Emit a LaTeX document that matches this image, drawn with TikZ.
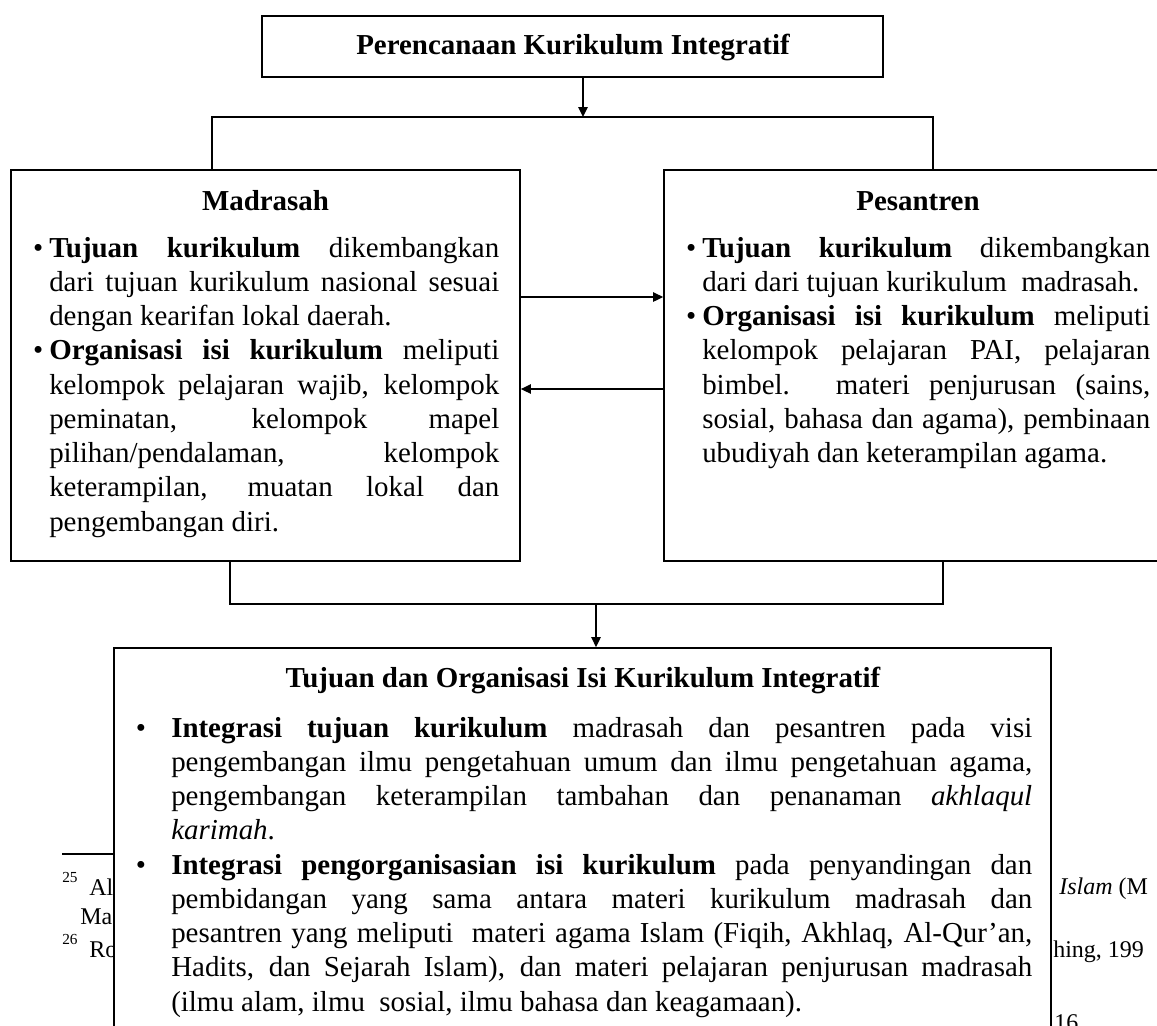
\documentclass[tikz,border=0pt]{standalone}
\usepackage{fontspec}
\setmainfont{Liberation Serif}
\usetikzlibrary{arrows.meta}
\newcommand\bodyfont{\fontsize{21.7pt}{25.7pt}\selectfont}
\newcommand\fullline[1]{\hbox to\linewidth{#1}}
\newcommand\lastline[1]{\hbox{#1}}
\newcommand\topbul{\llap{•\kern4.5pt}}
\newcommand\botbul{\llap{•\kern19pt}}
\begin{document}
\begin{tikzpicture}[x=0.75pt,y=-0.75pt,
  box/.style={draw, line width=1.3pt, fill=white, inner sep=0pt},
  conn/.style={line width=1.3pt},
  arr/.style={line width=1.3pt, -{Triangle[length=7.5pt,width=7pt]}},
  head/.style={font=\bodyfont\bfseries, inner sep=0pt, anchor=base},
  bodytext/.style={inner sep=0pt, anchor=base west},
  fn/.style={font=\fontsize{18pt}{20pt}\selectfont, inner sep=0pt, anchor=base west},
  fnsup/.style={font=\fontsize{11.5pt}{13pt}\selectfont, inner sep=0pt, anchor=base west}]
\fill[white] (0,0) rectangle (1157,1025);
\useasboundingbox (0,0) rectangle (1157,1025);

% background footnote fragments (partly hidden by the bottom box)
\coordinate (fr0) at (62,854);
\coordinate (fr1) at (300,854);
\draw[line width=0.9pt] (fr0) -- (fr1);
\node[fnsup] (s25) at (62,882) {25};
\node[fn] (f1) at (89,895) {Al};
\node[fn] (f2) at (80,924) {Ma};
\node[fnsup] (s26) at (62,944) {26};
\node[fn] (f3) at (89,957) {Ro};
\node[fn] (f4) at (1059,894) {\textit{Islam} (M};
\node[fn] (f5) at (1053,957) {hing, 199};
\node[fn] (f6) at (1054,1030) {16};

% boxes
\node[box, minimum width=465.75pt, minimum height=45.75pt] (top) at (572.5,46.5) {};
\node[box, minimum width=381.75pt, minimum height=293.25pt] (mad) at (265.5,365.5) {};
\node[box, minimum width=381pt, minimum height=293.25pt] (pes) at (918,365.5) {};
\node[box, minimum width=702.75pt, minimum height=316.5pt] (bot) at (582.5,859) {};

% headings
\node[head] (toph) at (573,54) {Perencanaan Kurikulum Integratif};
\node[head] (madh) at (265.5,210) {Madrasah};
\node[head] (pesh) at (918,210) {Pesantren};
\node[head] (both) at (583,687) {Tujuan dan Organisasi Isi Kurikulum Integratif};

% body texts
\node[bodytext] (madt) at (49,257) {\parbox[t]{337.5pt}{\bodyfont
  \fullline{\topbul\textbf{Tujuan kurikulum} dikembangkan}
  \fullline{dari tujuan kurikulum nasional sesuai}
  \lastline{dengan kearifan lokal daerah.}
  \fullline{\topbul\textbf{Organisasi isi kurikulum} meliputi}
  \fullline{kelompok pelajaran wajib, kelompok}
  \fullline{peminatan, kelompok mapel}
  \fullline{pilihan/pendalaman, kelompok}
  \fullline{keterampilan, muatan lokal dan}
  \lastline{pengembangan diri.}}};

\node[bodytext] (pest) at (702,257) {\parbox[t]{336pt}{\bodyfont
  \fullline{\topbul\textbf{Tujuan kurikulum} dikembangkan}
  \lastline{dari dari tujuan kurikulum~ madrasah.}
  \fullline{\topbul\textbf{Organisasi isi kurikulum} meliputi}
  \fullline{kelompok pelajaran PAI, pelajaran}
  \fullline{bimbel. materi penjurusan (sains,}
  \fullline{sosial, bahasa dan agama), pembinaan}
  \lastline{ubudiyah dan keterampilan agama.}}};

\node[bodytext] (bott) at (171,737) {\parbox[t]{645.75pt}{\bodyfont
  \fullline{\botbul\textbf{Integrasi tujuan kurikulum} madrasah dan pesantren pada visi}
  \fullline{pengembangan ilmu pengetahuan umum dan ilmu pengetahuan agama,}
  \fullline{pengembangan keterampilan tambahan dan penanaman \textit{akhlaqul}}
  \lastline{\textit{karimah}.}
  \fullline{\botbul\textbf{Integrasi pengorganisasian isi kurikulum} pada penyandingan dan}
  \fullline{pembidangan yang sama antara materi kurikulum madrasah dan}
  \fullline{pesantren yang meliputi~ materi agama Islam (Fiqih, Akhlaq, Al-Qur’an,}
  \fullline{Hadits, dan Sejarah Islam), dan materi pelajaran penjurusan madrasah}
  \lastline{(ilmu alam, ilmu~ sosial, ilmu bahasa dan keagamaan).}}};

% connectors
\coordinate (j1) at (583,117);
\coordinate (jl) at (212,117);
\coordinate (jr) at (933,117);
\draw[arr] (top.south -| j1) -- (j1);
\draw[conn] (mad.north -| jl) -- (jl) -- (jr) -- (pes.north -| jr);

\coordinate (y1) at (0,297);
\coordinate (y2) at (0,389);
\draw[arr] (mad.east |- y1) -- (pes.west |- y1);
\draw[arr] (pes.west |- y2) -- (mad.east |- y2);

\coordinate (bl) at (230,604);
\coordinate (br) at (943,604);
\coordinate (bm) at (596,604);
\draw[conn] (mad.south -| bl) -- (bl) -- (br) -- (pes.south -| br);
\draw[arr] (bm) -- (bot.north -| bm);
\end{tikzpicture}
\end{document}
